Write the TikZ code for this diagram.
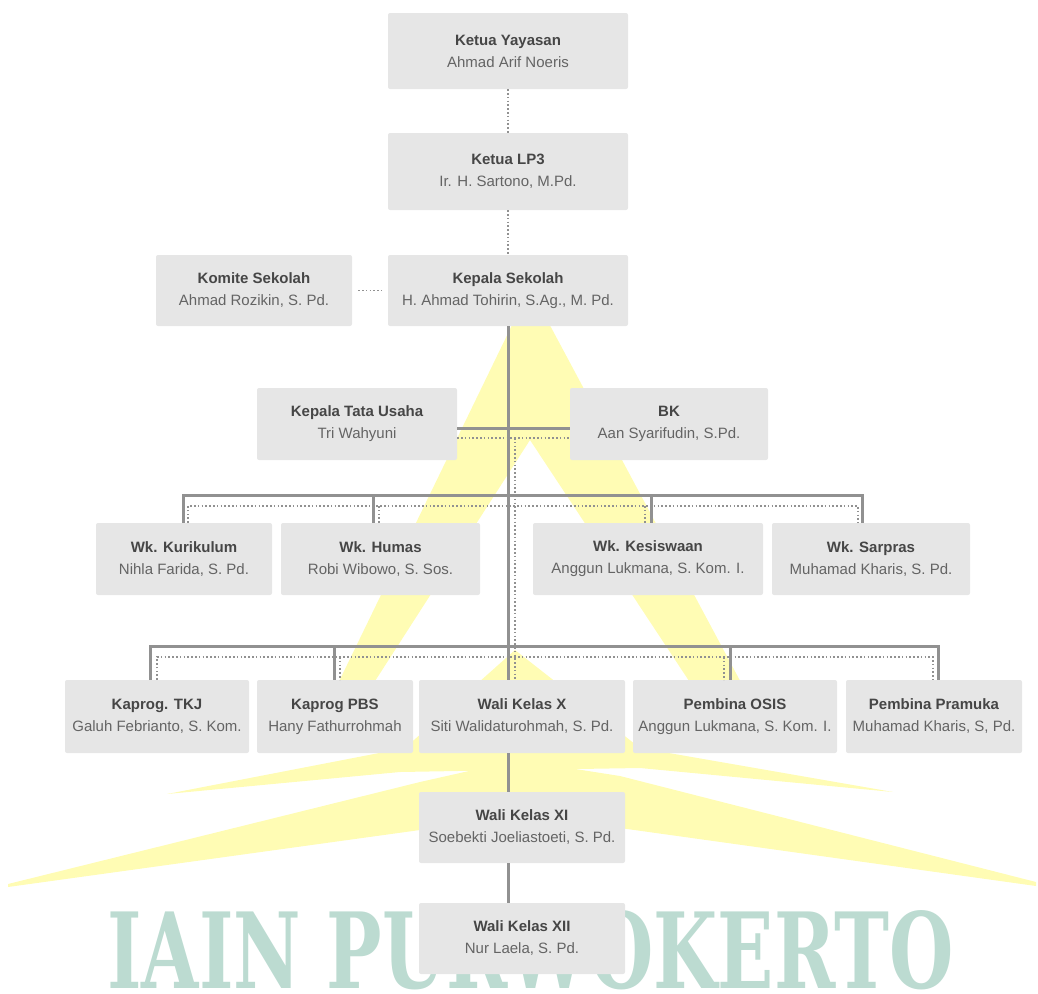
\documentclass[tikz,border=0pt]{standalone}
\usepackage{fontspec}
\setmainfont{Liberation Sans}
\newfontfamily\wmfont{DejaVu Serif}

\definecolor{boxfill}{RGB}{230,230,230}
\definecolor{titlegray}{RGB}{70,70,70}
\definecolor{namegray}{RGB}{100,100,100}
\definecolor{linegray}{RGB}{145,145,145}
\definecolor{wmyellow}{RGB}{255,252,180}
\definecolor{wmteal}{RGB}{188,219,209}

\tikzset{
	box/.style={fill=boxfill, rounded corners=2pt, inner sep=0pt, minimum height=72pt,
		align=center, text=namegray, font=\fontsize{15}{22}\selectfont},
	solidline/.style={linegray, line width=3pt},
	dotline/.style={linegray, line width=1.6pt, dash pattern=on 1.6pt off 2.2pt},
}
\newcommand{\jabatan}[2]{{\bfseries\color{titlegray}#1}\\#2}

\begin{document}
\begin{tikzpicture}[x=1pt,y=-1pt]
	\useasboundingbox (0,0) rectangle (1038,993);
	% watermark
	\fill[wmyellow] (530,288) -- (330,700) -- (368,692) -- (530,440) -- (695,690) -- (745,690) -- cycle;
	\fill[wmyellow] (515,650) -- (640,748) -- (893,792) -- (640,768) -- (515,770) -- (400,772) -- (167,794) -- (405,748) -- cycle;
	\fill[wmyellow] (8,884) -- (420,782) -- (518,760) -- (620,776) -- (1036,882) -- (1036,886) -- (620,828) -- (420,830) -- (8,887) -- cycle;
	\node[inner sep=0pt, anchor=south west] (wmtext) at (107,990) {\resizebox{846pt}{78pt}{\wmfont\bfseries\color{wmteal}IAIN PURWOKERTO}};
	
	% pimpinan
	\node[box, minimum width=240pt, minimum height=76pt] (yayasan) at (508,51) {\jabatan{Ketua Yayasan}{Ahmad Arif Noeris}};
	\node[box, minimum width=240pt, minimum height=77pt] (lpiii) at (508,171.5) {\jabatan{Ketua LP3}{Ir. H. Sartono, M.Pd.}};
	\node[box, minimum width=240pt, minimum height=71pt] (kepsek) at (508,290.5) {\jabatan{Kepala Sekolah}{H. Ahmad Tohirin, S.Ag., M. Pd.}};
	\node[box, minimum width=196pt, minimum height=71pt] (komite) at (254,290.5) {\jabatan{Komite Sekolah}{Ahmad Rozikin, S. Pd.}};
	\node[box, minimum width=200pt] (tu) at (357,424) {\jabatan{Kepala Tata Usaha}{Tri Wahyuni}};
	\node[box, minimum width=198pt] (bk) at (669,424) {\jabatan{BK}{Aan Syarifudin, S.Pd.}};
	
	% wakil kepala
	\node[box, minimum width=176pt] (kurikulum) at (184,559) {\jabatan{Wk. Kurikulum}{Nihla Farida, S. Pd.}};
	\node[box, minimum width=199pt] (humas) at (380.5,559) {\jabatan{Wk. Humas}{Robi Wibowo, S. Sos.}};
	\node[box, minimum width=230pt] (kesiswaan) at (648,559) {\jabatan{Wk. Kesiswaan}{Anggun Lukmana, S. Kom. I.}};
	\node[box, minimum width=198pt] (sarpras) at (871,559) {\jabatan{Wk. Sarpras}{Muhamad Kharis, S. Pd.}};
	
	% kaprog, wali kelas, pembina
	\node[box, minimum width=184pt, minimum height=73pt] (tkj) at (157,716.5) {\jabatan{Kaprog. TKJ}{Galuh Febrianto, S. Kom.}};
	\node[box, minimum width=156pt, minimum height=73pt] (pbs) at (335,716.5) {\jabatan{Kaprog PBS}{Hany Fathurrohmah}};
	\node[box, minimum width=206pt, minimum height=73pt] (walix) at (522,716.5) {\jabatan{Wali Kelas X}{Siti Walidaturohmah, S. Pd.}};
	\node[box, minimum width=204pt, minimum height=73pt] (osis) at (735,716.5) {\jabatan{Pembina OSIS}{Anggun Lukmana, S. Kom. I.}};
	\node[box, minimum width=176pt, minimum height=73pt] (pramuka) at (934,716.5) {\jabatan{Pembina Pramuka}{Muhamad Kharis, S, Pd.}};
	\node[box, minimum width=206pt, minimum height=71pt] (walixi) at (522,827.5) {\jabatan{Wali Kelas XI}{Soebekti Joeliastoeti, S. Pd.}};
	\node[box, minimum width=206pt, minimum height=71pt] (walixii) at (522,938.5) {\jabatan{Wali Kelas XII}{Nur Laela, S. Pd.}};
	
	% garis
	\draw[dotline] (yayasan) -- (lpiii);
	\draw[dotline] (lpiii) -- (kepsek);
	\draw[dotline, shorten <=6pt, shorten >=6pt] (komite) -- (kepsek);
	\draw[solidline] (kepsek.south) -- (kepsek.south |- walix.north);
	\draw[solidline] (tu.east |- 0,428) -- (bk.west |- 0,428);
	\draw[dotline] (tu.east |- 0,438) -- (bk.west |- 0,438);
	\draw[dotline] (515,438) -- (515,0 |- walix.north);
	
	\draw[solidline] (183,0 |- kurikulum.north) -- (183,495) -- (862,495) -- (862,0 |- sarpras.north);
	\foreach \x/\n in {373/humas,651/kesiswaan}
		\draw[solidline] (\x,495) -- (\x,0 |- \n.north);
	\draw[dotline] (188,0 |- kurikulum.north) -- (188,506) -- (858,506) -- (858,0 |- sarpras.north);
	\foreach \x/\n in {379/humas,645/kesiswaan}
		\draw[dotline] (\x,506) -- (\x,0 |- \n.north);
	
	\draw[solidline] (150,0 |- tkj.north) -- (150,646) -- (938,646) -- (938,0 |- pramuka.north);
	\foreach \x/\n in {334/pbs,730/osis}
		\draw[solidline] (\x,646) -- (\x,0 |- \n.north);
	\draw[dotline] (157,0 |- tkj.north) -- (157,657) -- (933,657) -- (933,0 |- pramuka.north);
	\foreach \x/\n in {340/pbs,724/osis}
		\draw[dotline] (\x,657) -- (\x,0 |- \n.north);
	
	\draw[solidline] (walix.south -| kepsek.south) -- (walixi.north -| kepsek.south);
	\draw[solidline] (walixi.south -| kepsek.south) -- (walixii.north -| kepsek.south);
\end{tikzpicture}
\end{document}
